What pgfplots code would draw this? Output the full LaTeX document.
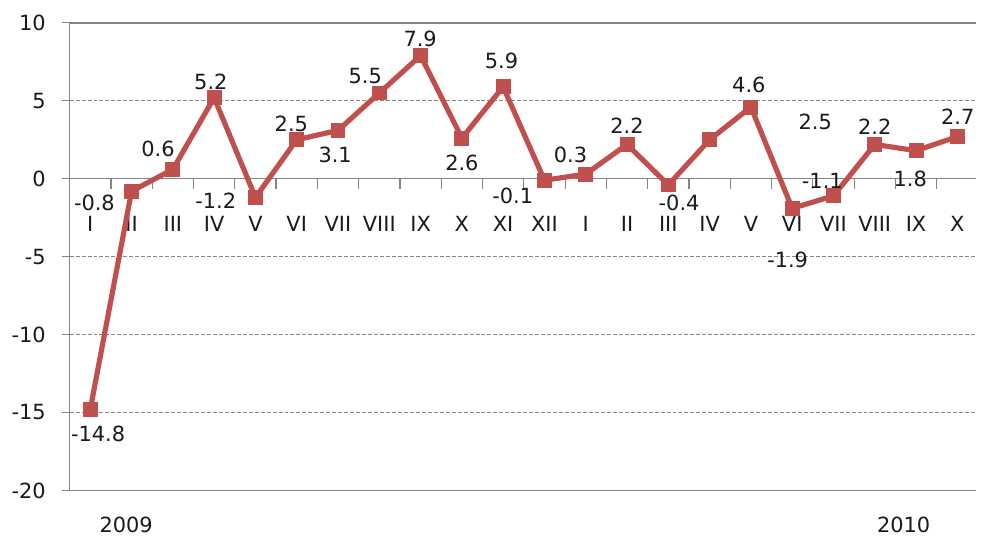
\documentclass[border=0pt]{standalone}
\usepackage{fontspec}
\setmainfont{DejaVu Sans}
\usepackage{pgfplots}
\pgfplotsset{compat=1.18}
\definecolor{exred}{HTML}{C0504D}
\definecolor{gridgray}{HTML}{868686}
\definecolor{txt}{HTML}{1A1A1A}
\begin{document}
\begin{tikzpicture}
\begin{axis}[
 scale only axis, width=455.5pt, height=235pt,
 xmin=-0.5, xmax=21.45, ymin=-20, ymax=10,
 axis line style={draw=none},
 ytick={-20,-15,...,10},
 ytick pos=left,
 tick align=outside,
 major tick length=4pt,
 ytick style={gridgray, line width=0.6pt},
 ymajorgrids, grid style={gridgray, dash pattern=on 2pt off 1pt, line width=0.55pt},
 xtick={0,...,21},
 xticklabels={I,II,III,IV,V,VI,VII,VIII,IX,X,XI,XII,I,II,III,IV,V,VI,VII,VIII,IX,X},
 xtick style={draw=none},
 xticklabel style={anchor=center, yshift=138pt, text=txt},
 yticklabel style={text=txt, xshift=-4.5pt},
 /pgf/number format/assume math mode=true,
 clip=false,
 font=\fontsize{10.5}{12.5}\selectfont,
]
\coordinate (SW) at (rel axis cs:0,0);
\coordinate (NE) at (rel axis cs:1,1);
\draw[gridgray, line width=0.75pt] (axis cs:-0.5,10) -- (axis cs:21.45,10);
\draw[gridgray, line width=0.75pt] (axis cs:-0.5,0) -- (axis cs:21.45,0);
\draw[gridgray, line width=0.75pt] (axis cs:-0.5,-20) -- (axis cs:21.45,-20);
\draw[gridgray, line width=0.75pt] (axis cs:-0.5,-20) -- (axis cs:-0.5,10);
\pgfplotsinvokeforeach{0.5,1.5,...,20.5}{\draw[gridgray,line width=0.6pt] (axis cs:#1,0) -- ++(0pt,-5pt);}
\addplot[exred, line width=2.6pt, mark=square*, mark size=3.5pt, mark options={line width=0.5pt}] coordinates {
(0,-14.8) (1,-0.8) (2,0.6) (3,5.2) (4,-1.2) (5,2.5) (6,3.1) (7,5.5) (8,7.9) (9,2.6) (10,5.9) (11,-0.1)
(12,0.3) (13,2.2) (14,-0.4) (15,2.5) (16,4.6) (17,-1.9) (18,-1.1) (19,2.2) (20,1.8) (21,2.7)};
\begin{scope}[every node/.style={text=txt}]
\node at (axis cs:0.19,-16.4) {-14.8};
\node at (axis cs:0.10,-1.53) {-0.8};
\node at (axis cs:1.64,1.91) {0.6};
\node at (axis cs:2.92,6.19) {5.2};
\node at (axis cs:3.04,-1.40) {-1.2};
\node at (axis cs:4.87,3.51) {2.5};
\node at (axis cs:5.93,1.53) {3.1};
\node at (axis cs:6.66,6.57) {5.5};
\node at (axis cs:7.99,9.0) {7.9};
\node at (axis cs:9.0,1.02) {2.6};
\node at (axis cs:9.96,7.53) {5.9};
\node at (axis cs:10.23,-1.08) {-0.1};
\node at (axis cs:11.63,1.53) {0.3};
\node at (axis cs:13.0,3.38) {2.2};
\node at (axis cs:14.26,-1.53) {-0.4};
\node at (axis cs:15.95,6.0) {4.6};
\node at (axis cs:17.56,3.64) {2.5};
\node at (axis cs:17.73,-0.13) {-1.1};
\node at (axis cs:19.0,3.32) {2.2};
\node at (axis cs:19.86,0.0) {1.8};
\node at (axis cs:21.01,3.96) {2.7};
\node at (axis cs:16.89,-5.23) {-1.9};
\node at (axis cs:0.87,-22.2) {2009};
\node at (axis cs:19.7,-22.2) {2010};
\end{scope}
\end{axis}
\path ([shift={(-35pt,-22.5pt)}]SW) rectangle ([shift={(0pt,11.5pt)}]NE);
\end{tikzpicture}
\end{document}
